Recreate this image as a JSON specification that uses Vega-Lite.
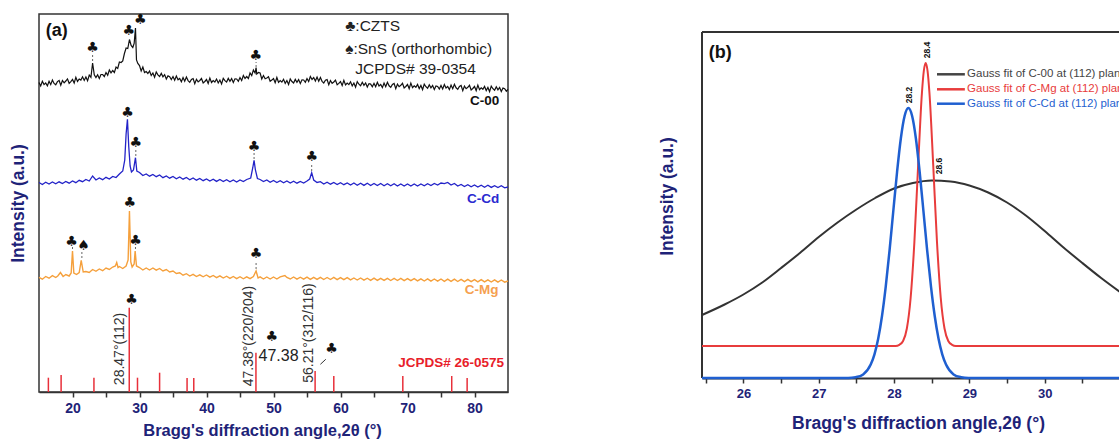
{
"$schema": "https://vega.github.io/schema/vega-lite/v6.json",
"padding": {"left": 8, "top": 12, "right": 0, "bottom": 0},
"bounds": "flush",
"spacing": 194,
"resolve": {"scale": {"color": "independent"}},
"config": {
  "font": "Liberation Sans",
  "view": {"stroke": "#333333", "strokeWidth": 1.5},
  "axis": {"grid": false, "labelFontWeight": "bold", "labelColor": "#1e2378", "titleColor": "#1e2378", "titleFontWeight": "bold", "domainColor": "#333333", "tickColor": "#333333", "labelFont": "Liberation Sans", "titleFont": "Liberation Sans"}
},
"datasets": {
  "c00": [{"x":15,"y":309.5},{"x":15.25,"y":306.1},{"x":15.5,"y":310.7},{"x":15.75,"y":307.4},{"x":16,"y":309},{"x":16.25,"y":306.1},{"x":16.5,"y":310.7},{"x":16.75,"y":307.4},{"x":17,"y":312},{"x":17.25,"y":308.6},{"x":17.5,"y":307.2},{"x":17.75,"y":310.4},{"x":18,"y":311.5},{"x":18.25,"y":306.7},{"x":18.5,"y":311.5},{"x":18.75,"y":309.2},{"x":19,"y":311},{"x":19.25,"y":313.1},{"x":19.5,"y":308.7},{"x":19.75,"y":310.4},{"x":20,"y":312.5},{"x":20.25,"y":308.9},{"x":20.5,"y":314.7},{"x":20.75,"y":310.6},{"x":21,"y":313},{"x":21.25,"y":311.9},{"x":21.5,"y":315.2},{"x":21.75,"y":311.6},{"x":22,"y":315},{"x":22.25,"y":311.2},{"x":22.5,"y":317},{"x":22.75,"y":314.7},{"x":23.0,"y":329},{"x":23.25,"y":317.2},{"x":23.5,"y":314.5},{"x":23.75,"y":317.2},{"x":24,"y":313.5},{"x":24.25,"y":317.5},{"x":24.5,"y":317.5},{"x":24.75,"y":315.5},{"x":25,"y":319.5},{"x":25.25,"y":316.7},{"x":25.5,"y":322},{"x":25.75,"y":319.2},{"x":26,"y":321.5},{"x":26.25,"y":319.5},{"x":26.5,"y":325},{"x":26.75,"y":323.5},{"x":27,"y":330},{"x":27.25,"y":329.5},{"x":27.5,"y":331},{"x":27.75,"y":338.5},{"x":28,"y":344},{"x":28.25,"y":343.5},{"x":28.5,"y":352.5},{"x":28.75,"y":346.5},{"x":29,"y":344.5},{"x":29.2,"y":348.5},{"x":29.4,"y":364},{"x":29.55,"y":332},{"x":29.75,"y":328.5},{"x":30,"y":326.5},{"x":30.25,"y":321},{"x":30.5,"y":325},{"x":30.75,"y":319.5},{"x":31,"y":320.5},{"x":31.25,"y":318.5},{"x":31.5,"y":321},{"x":31.75,"y":316.5},{"x":32,"y":319},{"x":32.25,"y":314.7},{"x":32.5,"y":320},{"x":32.75,"y":317.2},{"x":33,"y":315.5},{"x":33.25,"y":318.6},{"x":33.5,"y":315.2},{"x":33.75,"y":317.4},{"x":34,"y":313},{"x":34.25,"y":316.1},{"x":34.5,"y":315.2},{"x":34.75,"y":312.4},{"x":35,"y":315.5},{"x":35.25,"y":311.7},{"x":35.5,"y":316},{"x":35.75,"y":312.2},{"x":36,"y":313.5},{"x":36.25,"y":310.2},{"x":36.5,"y":314.5},{"x":36.75,"y":310.7},{"x":37,"y":315},{"x":37.25,"y":311.4},{"x":37.5,"y":309.7},{"x":37.75,"y":312.6},{"x":38,"y":313.5},{"x":38.25,"y":308.4},{"x":38.5,"y":312.7},{"x":38.75,"y":310.1},{"x":39,"y":311.5},{"x":39.25,"y":313.5},{"x":39.5,"y":309},{"x":39.75,"y":310.5},{"x":40,"y":312.5},{"x":40.25,"y":308.5},{"x":40.5,"y":314},{"x":40.75,"y":309.5},{"x":41,"y":311.5},{"x":41.25,"y":310},{"x":41.5,"y":313},{"x":41.75,"y":309},{"x":42,"y":312},{"x":42.25,"y":308.1},{"x":42.5,"y":313.7},{"x":42.75,"y":311.4},{"x":43,"y":310},{"x":43.25,"y":313.6},{"x":43.5,"y":310.7},{"x":43.75,"y":313.4},{"x":44,"y":309.5},{"x":44.25,"y":313.2},{"x":44.5,"y":313},{"x":44.75,"y":310.7},{"x":45,"y":314.5},{"x":45.25,"y":311.5},{"x":45.5,"y":316.5},{"x":45.75,"y":313.5},{"x":46,"y":315.5},{"x":46.25,"y":313.5},{"x":46.5,"y":319},{"x":46.75,"y":316.5},{"x":47,"y":322},{"x":47.25,"y":319},{"x":47.4,"y":324.5},{"x":47.5,"y":318},{"x":47.75,"y":319.5},{"x":48,"y":319},{"x":48.25,"y":313},{"x":48.5,"y":316.5},{"x":48.75,"y":313.2},{"x":49,"y":314},{"x":49.25,"y":315.2},{"x":49.5,"y":310.7},{"x":49.75,"y":311.9},{"x":50,"y":313.5},{"x":50.25,"y":309.2},{"x":50.5,"y":314.5},{"x":50.75,"y":309.7},{"x":51,"y":311.5},{"x":51.25,"y":309.9},{"x":51.5,"y":312.7},{"x":51.75,"y":308.6},{"x":52,"y":311.5},{"x":52.25,"y":307.5},{"x":52.5,"y":313},{"x":52.75,"y":310.5},{"x":53,"y":309},{"x":53.25,"y":312.6},{"x":53.5,"y":309.7},{"x":53.75,"y":312.4},{"x":54,"y":308.5},{"x":54.25,"y":312.2},{"x":54.5,"y":312},{"x":54.75,"y":309.7},{"x":55,"y":313.5},{"x":55.25,"y":310.5},{"x":55.5,"y":315.5},{"x":55.75,"y":312.5},{"x":56,"y":314.5},{"x":56.25,"y":311},{"x":56.5,"y":315},{"x":56.75,"y":310.7},{"x":57,"y":314.5},{"x":57.25,"y":310.7},{"x":57.5,"y":309},{"x":57.75,"y":311.7},{"x":58,"y":312.5},{"x":58.25,"y":307.2},{"x":58.5,"y":311.5},{"x":58.75,"y":308.7},{"x":59,"y":310},{"x":59.25,"y":311.9},{"x":59.5,"y":307.2},{"x":59.75,"y":308.6},{"x":60,"y":310.5},{"x":60.25,"y":306.4},{"x":60.5,"y":311.7},{"x":60.75,"y":307.1},{"x":61,"y":309},{"x":61.25,"y":307.4},{"x":61.5,"y":310.2},{"x":61.75,"y":306.1},{"x":62,"y":309},{"x":62.25,"y":304.9},{"x":62.5,"y":310.4},{"x":62.75,"y":307.8},{"x":63,"y":306.2},{"x":63.25,"y":309.7},{"x":63.5,"y":306.6},{"x":63.75,"y":309},{"x":64,"y":305},{"x":64.25,"y":308.4},{"x":64.5,"y":307.9},{"x":64.75,"y":305.3},{"x":65,"y":308.7},{"x":65.25,"y":305.2},{"x":65.5,"y":309.6},{"x":65.75,"y":306},{"x":66,"y":307.5},{"x":66.25,"y":304.4},{"x":66.5,"y":308.9},{"x":66.75,"y":305.3},{"x":67,"y":309.7},{"x":67.25,"y":306.2},{"x":67.5,"y":304.6},{"x":67.75,"y":307.5},{"x":68,"y":308.5},{"x":68.25,"y":303.4},{"x":68.5,"y":307.9},{"x":68.75,"y":305.3},{"x":69,"y":306.7},{"x":69.25,"y":308.7},{"x":69.5,"y":304.1},{"x":69.75,"y":305.5},{"x":70,"y":307.5},{"x":70.25,"y":303.4},{"x":70.5,"y":308.9},{"x":70.75,"y":304.3},{"x":71,"y":306.2},{"x":71.25,"y":304.7},{"x":71.5,"y":307.6},{"x":71.75,"y":303.5},{"x":72,"y":306.5},{"x":72.25,"y":302.4},{"x":72.5,"y":307.9},{"x":72.75,"y":305.3},{"x":73,"y":303.7},{"x":73.25,"y":307.2},{"x":73.5,"y":304.1},{"x":73.75,"y":306.5},{"x":74,"y":302.5},{"x":74.25,"y":306},{"x":74.5,"y":305.5},{"x":74.75,"y":303},{"x":75,"y":306.5},{"x":75.25,"y":303},{"x":75.5,"y":307.5},{"x":75.75,"y":304},{"x":76,"y":305.5},{"x":76.25,"y":302.4},{"x":76.5,"y":306.9},{"x":76.75,"y":303.3},{"x":77,"y":307.7},{"x":77.25,"y":304.2},{"x":77.5,"y":302.6},{"x":77.75,"y":305.5},{"x":78,"y":306.5},{"x":78.25,"y":301.4},{"x":78.5,"y":305.9},{"x":78.75,"y":303.3},{"x":79,"y":304.7},{"x":79.25,"y":306.7},{"x":79.5,"y":302.1},{"x":79.75,"y":303.5},{"x":80,"y":305.5},{"x":80.25,"y":301.4},{"x":80.5,"y":306.9},{"x":80.75,"y":302.3},{"x":81,"y":304.2},{"x":81.25,"y":302.7},{"x":81.5,"y":305.6},{"x":81.75,"y":301.5},{"x":82,"y":304.5},{"x":82.25,"y":300.4},{"x":82.5,"y":305.9},{"x":82.75,"y":303.3},{"x":83,"y":301.7},{"x":83.25,"y":305.2},{"x":83.5,"y":302.1},{"x":83.75,"y":304.5},{"x":84,"y":300.5},{"x":84.25,"y":303.9},{"x":84.5,"y":303.3},{"x":84.75,"y":300.8},{"x":85,"y":302.7}],
  "ccd": [{"x":15,"y":209.5},{"x":15.5,"y":207.5},{"x":16,"y":209.8},{"x":16.5,"y":208},{"x":17,"y":210},{"x":17.5,"y":208.2},{"x":18,"y":210.2},{"x":18.5,"y":208.5},{"x":19,"y":210.5},{"x":19.5,"y":208.8},{"x":20,"y":211},{"x":20.5,"y":209.3},{"x":21,"y":211.7},{"x":21.5,"y":210.3},{"x":22,"y":212.5},{"x":22.5,"y":211},{"x":23,"y":216},{"x":23.5,"y":212},{"x":24,"y":214},{"x":24.5,"y":212.3},{"x":25,"y":214.7},{"x":25.5,"y":213},{"x":26,"y":215.5},{"x":26.5,"y":214.5},{"x":27,"y":218},{"x":27.5,"y":221},{"x":27.8,"y":232},{"x":28.0,"y":258},{"x":28.2,"y":272.7},{"x":28.4,"y":245},{"x":28.6,"y":226},{"x":28.8,"y":220},{"x":29.1,"y":222},{"x":29.4,"y":234.3},{"x":29.6,"y":221},{"x":30,"y":219.5},{"x":30.5,"y":216.5},{"x":31,"y":218},{"x":31.5,"y":215.8},{"x":32,"y":217.5},{"x":32.5,"y":215.3},{"x":33,"y":217},{"x":33.5,"y":214.3},{"x":34,"y":216},{"x":34.5,"y":213.8},{"x":35,"y":215.5},{"x":35.5,"y":213.2},{"x":36,"y":215},{"x":36.5,"y":212.8},{"x":37,"y":214.5},{"x":37.5,"y":212.2},{"x":38,"y":214},{"x":38.5,"y":211.8},{"x":39,"y":213.5},{"x":39.5,"y":211.3},{"x":40,"y":213},{"x":40.5,"y":211},{"x":41,"y":212.8},{"x":41.5,"y":210.6},{"x":42,"y":212.5},{"x":42.5,"y":210.4},{"x":43,"y":212.3},{"x":43.5,"y":210.2},{"x":44,"y":212},{"x":44.5,"y":210},{"x":45,"y":212},{"x":45.5,"y":210.5},{"x":46,"y":212.5},{"x":46.6,"y":214},{"x":46.9,"y":224},{"x":47.1,"y":231.7},{"x":47.3,"y":222},{"x":47.6,"y":213.5},{"x":48,"y":212.5},{"x":48.5,"y":210.5},{"x":49,"y":212},{"x":49.5,"y":209.7},{"x":50,"y":211.5},{"x":50.5,"y":209.5},{"x":51,"y":211.3},{"x":51.5,"y":209.2},{"x":52,"y":211},{"x":52.5,"y":209},{"x":53,"y":210.8},{"x":53.5,"y":208.8},{"x":54,"y":210.5},{"x":54.5,"y":209},{"x":55,"y":211},{"x":55.4,"y":213},{"x":55.7,"y":219.3},{"x":56,"y":212},{"x":56.5,"y":209.5},{"x":57,"y":210.3},{"x":57.5,"y":208},{"x":58,"y":209.8},{"x":58.5,"y":207.8},{"x":59,"y":209.5},{"x":59.5,"y":207.5},{"x":60,"y":209.3},{"x":60.5,"y":207.3},{"x":61,"y":209},{"x":61.5,"y":207},{"x":62,"y":209},{"x":62.5,"y":206.8},{"x":63,"y":208.8},{"x":63.5,"y":206.6},{"x":64,"y":208.7},{"x":64.5,"y":206.5},{"x":65,"y":208.5},{"x":65.5,"y":206.4},{"x":66,"y":208.5},{"x":66.5,"y":206.3},{"x":67,"y":208.3},{"x":67.5,"y":206.2},{"x":68,"y":208.3},{"x":68.5,"y":206},{"x":69,"y":208},{"x":69.5,"y":206},{"x":70,"y":208},{"x":70.5,"y":206},{"x":71,"y":208},{"x":71.5,"y":206},{"x":72,"y":208},{"x":72.5,"y":206.2},{"x":73,"y":208.3},{"x":73.5,"y":206.5},{"x":74,"y":208.5},{"x":74.5,"y":207},{"x":75,"y":209},{"x":75.5,"y":208.3},{"x":76,"y":209.5},{"x":76.5,"y":207},{"x":77,"y":208.5},{"x":77.5,"y":206},{"x":78,"y":207.5},{"x":78.5,"y":205.5},{"x":79,"y":207.3},{"x":79.5,"y":205.2},{"x":80,"y":207},{"x":80.5,"y":205},{"x":81,"y":206.8},{"x":81.5,"y":204.8},{"x":82,"y":206.7},{"x":82.5,"y":204.6},{"x":83,"y":206.3},{"x":83.5,"y":204.4},{"x":84,"y":206.3},{"x":84.5,"y":204.2},{"x":85,"y":205}],
  "cmg": [{"x":15,"y":114.7},{"x":15.5,"y":112.8},{"x":16,"y":115.5},{"x":16.5,"y":113.8},{"x":17,"y":116.3},{"x":17.5,"y":114.5},{"x":17.8,"y":116},{"x":18.2,"y":119.5},{"x":18.6,"y":115.5},{"x":19,"y":117.5},{"x":19.5,"y":116},{"x":19.8,"y":119},{"x":20.0,"y":141},{"x":20.2,"y":119},{"x":20.6,"y":117.5},{"x":21.0,"y":119.5},{"x":21.3,"y":131.7},{"x":21.6,"y":120},{"x":22,"y":120.5},{"x":22.5,"y":119.5},{"x":23,"y":122.5},{"x":23.5,"y":120.7},{"x":24,"y":123},{"x":24.5,"y":121.3},{"x":25,"y":124},{"x":25.5,"y":122.5},{"x":26,"y":125},{"x":26.4,"y":126},{"x":26.6,"y":129.5},{"x":26.8,"y":124.5},{"x":27,"y":125.5},{"x":27.5,"y":123.5},{"x":28,"y":126},{"x":28.3,"y":132},{"x":28.5,"y":181},{"x":28.7,"y":130},{"x":28.9,"y":125},{"x":29.2,"y":128},{"x":29.35,"y":141},{"x":29.55,"y":126},{"x":30,"y":124.5},{"x":30.5,"y":122},{"x":31,"y":124},{"x":31.5,"y":122},{"x":32,"y":124},{"x":32.5,"y":121.8},{"x":33,"y":123.5},{"x":33.5,"y":121},{"x":34,"y":122.5},{"x":34.5,"y":120},{"x":35,"y":121},{"x":35.5,"y":118.5},{"x":36,"y":119.3},{"x":36.5,"y":116.8},{"x":37,"y":118.3},{"x":37.5,"y":116},{"x":38,"y":117.7},{"x":38.5,"y":115.5},{"x":39,"y":117.2},{"x":39.5,"y":115.2},{"x":40,"y":117},{"x":40.5,"y":114.8},{"x":41,"y":116.5},{"x":41.5,"y":114.4},{"x":42,"y":116.2},{"x":42.5,"y":114},{"x":43,"y":115.8},{"x":43.5,"y":113.6},{"x":44,"y":115.5},{"x":44.5,"y":113.4},{"x":45,"y":115.3},{"x":45.5,"y":113.2},{"x":46,"y":115.2},{"x":46.5,"y":113.3},{"x":47,"y":115.5},{"x":47.4,"y":121},{"x":47.7,"y":114},{"x":48,"y":115.2},{"x":48.5,"y":113},{"x":49,"y":115},{"x":49.5,"y":113},{"x":50,"y":115},{"x":50.5,"y":113},{"x":51,"y":115.2},{"x":51.7,"y":116.5},{"x":52,"y":114.5},{"x":52.5,"y":113},{"x":53,"y":115},{"x":53.5,"y":112.8},{"x":54,"y":114.8},{"x":54.5,"y":112.8},{"x":55,"y":114.8},{"x":55.5,"y":112.6},{"x":56,"y":114.6},{"x":56.5,"y":112.6},{"x":57,"y":114.7},{"x":57.5,"y":112.5},{"x":58,"y":114.5},{"x":58.5,"y":112.5},{"x":59,"y":114.6},{"x":59.5,"y":112.4},{"x":60,"y":114.4},{"x":60.5,"y":112.3},{"x":61,"y":114.3},{"x":61.5,"y":112.1},{"x":62,"y":114},{"x":62.5,"y":112},{"x":63,"y":114},{"x":63.5,"y":111.8},{"x":64,"y":113.8},{"x":64.5,"y":111.7},{"x":65,"y":113.8},{"x":65.5,"y":111.6},{"x":66,"y":113.7},{"x":66.5,"y":111.6},{"x":67,"y":113.7},{"x":67.5,"y":111.5},{"x":68,"y":113.6},{"x":68.5,"y":111.5},{"x":69,"y":113.6},{"x":69.5,"y":111.4},{"x":70,"y":113.4},{"x":70.5,"y":111.3},{"x":71,"y":113.4},{"x":71.5,"y":111.1},{"x":72,"y":113.2},{"x":72.5,"y":111},{"x":73,"y":113.2},{"x":73.5,"y":110.9},{"x":74,"y":113},{"x":74.5,"y":110.8},{"x":75,"y":113},{"x":75.5,"y":110.7},{"x":76,"y":112.8},{"x":76.5,"y":110.6},{"x":77,"y":112.8},{"x":77.5,"y":110.5},{"x":78,"y":112.6},{"x":78.5,"y":110.4},{"x":79,"y":112.6},{"x":79.5,"y":110.3},{"x":80,"y":112.4},{"x":80.5,"y":110.2},{"x":81,"y":112.4},{"x":81.5,"y":110.1},{"x":82,"y":112.2},{"x":82.5,"y":110},{"x":83,"y":112.2},{"x":83.5,"y":109.9},{"x":84,"y":112},{"x":84.5,"y":109.8},{"x":85,"y":111}],
  "sticks": [{"x":16.4,"y":14.3},{"x":18.3,"y":17},{"x":23.2,"y":14.3},{"x":28.47,"y":84.3},{"x":29.7,"y":14.3},{"x":33.0,"y":19.3},{"x":37.1,"y":14},{"x":38.1,"y":14},{"x":47.38,"y":39.3},{"x":56.21,"y":21},{"x":59.0,"y":16},{"x":69.3,"y":16},{"x":76.6,"y":16},{"x":78.9,"y":14}],
  "conn": [{"x":23.0,"y":331,"y2":338},{"x":47.4,"y":325,"y2":330},{"x":29.45,"y":236,"y2":243},{"x":47.1,"y":233,"y2":239},{"x":55.7,"y":221,"y2":229},{"x":20.0,"y":143,"y2":146},{"x":21.4,"y":134,"y2":140},{"x":29.4,"y":143,"y2":146},{"x":47.4,"y":123,"y2":131}],
  "slash": [{"x":57.0,"y":27.7,"x2":57.8,"y2":32.7}],
  "sym": [{"x":23.0,"y":344.3,"t":"♣"},{"x":28.4,"y":361,"t":"♣"},{"x":30.1,"y":372,"t":"♣"},{"x":47.35,"y":336,"t":"♣"},{"x":28.2,"y":279.3,"t":"♣"},{"x":29.45,"y":249.3,"t":"♣"},{"x":47.1,"y":245,"t":"♣"},{"x":55.7,"y":235,"t":"♣"},{"x":28.55,"y":189.3,"t":"♣"},{"x":19.85,"y":150.3,"t":"♣"},{"x":21.65,"y":146,"t":"♠"},{"x":29.4,"y":151,"t":"♣"},{"x":47.4,"y":137.7,"t":"♣"},{"x":28.8,"y":92,"t":"♣"},{"x":49.75,"y":55,"t":"♣"},{"x":58.65,"y":42.7,"t":"♣"}],
  "rot": [{"x":27.1,"y":43,"t":"28.47°(112)"},{"x":46.4,"y":56,"t":"47.38°(220/204)"},{"x":55.3,"y":59,"t":"56.21°(312/116)"}],
  "big": [{"x":50.75,"y":36,"t":"47.38"}],
  "legA": [{"x":60.7,"y":366,"t":"♣:CZTS"},{"x":60.7,"y":343,"t":"♠:SnS (orthorhombic)"},{"x":62.2,"y":323,"t":"JCPDS# 39-0354"}],
  "lblA": [{"x":83.7,"y":291,"t":"C-00","s":"C-00"},{"x":83.7,"y":193,"t":"C-Cd","s":"C-Cd"},{"x":83.6,"y":102,"t":"C-Mg","s":"C-Mg"},{"x":84.4,"y":29.3,"t":"JCPDS# 26-0575","s":"ref"}],
  "tagA": [{"x":16.0,"y":361,"t":"(a)"}],
  "frameB": [{"x":25.45,"x2":31,"y":346,"y2":346},{"x":25.45,"x2":25.45,"y":0,"y2":346}],
  "bk": [{"x":25.45,"y":63},{"x":25.75,"y":73.5},{"x":26,"y":83.5},{"x":26.25,"y":95.5},{"x":26.5,"y":110},{"x":26.75,"y":125},{"x":27,"y":141},{"x":27.25,"y":155.5},{"x":27.5,"y":168.5},{"x":27.75,"y":180},{"x":28,"y":189.5},{"x":28.25,"y":195},{"x":28.5,"y":197.5},{"x":28.75,"y":196.5},{"x":29,"y":192.5},{"x":29.25,"y":185.5},{"x":29.5,"y":175.5},{"x":29.75,"y":162.5},{"x":30,"y":147},{"x":30.25,"y":130.5},{"x":30.5,"y":115},{"x":30.75,"y":100},{"x":31,"y":86}],
  "rd": [{"x":25.45,"y":32},{"x":28.02,"y":32},{"x":28.07,"y":33.2},{"x":28.12,"y":37},{"x":28.17,"y":49.5},{"x":28.22,"y":80},{"x":28.27,"y":136},{"x":28.32,"y":213},{"x":28.37,"y":285},{"x":28.395,"y":307},{"x":28.42,"y":315},{"x":28.445,"y":307},{"x":28.47,"y":285},{"x":28.52,"y":213},{"x":28.57,"y":136},{"x":28.62,"y":80},{"x":28.67,"y":49.5},{"x":28.72,"y":37},{"x":28.77,"y":33.2},{"x":28.82,"y":32},{"x":31,"y":32}],
  "bl": [{"x":25.45,"y":0},{"x":27.39,"y":0},{"x":27.49,"y":0.8},{"x":27.59,"y":3.6},{"x":27.69,"y":13.4},{"x":27.74,"y":23.7},{"x":27.79,"y":39.5},{"x":27.84,"y":62},{"x":27.89,"y":91.6},{"x":27.94,"y":127.4},{"x":27.99,"y":167},{"x":28.04,"y":206},{"x":28.09,"y":239.5},{"x":28.14,"y":262},{"x":28.19,"y":270},{"x":28.24,"y":262},{"x":28.29,"y":239.5},{"x":28.34,"y":206},{"x":28.39,"y":167},{"x":28.44,"y":127.4},{"x":28.49,"y":91.6},{"x":28.54,"y":62},{"x":28.59,"y":39.5},{"x":28.64,"y":23.7},{"x":28.69,"y":13.4},{"x":28.79,"y":3.6},{"x":28.89,"y":0.8},{"x":28.99,"y":0},{"x":31,"y":0}],
  "legLineB": [{"x":28.57,"x2":28.94,"y":303.7,"g":"C-00"},{"x":28.57,"x2":28.94,"y":288.7,"g":"C-Mg"},{"x":28.57,"x2":28.94,"y":274.3,"g":"C-Cd"}],
  "legTextB": [{"x":28.97,"y":303.7,"t":"Gauss fit of C-00 at (112) plane","g":"C-00"},{"x":28.97,"y":288.7,"t":"Gauss fit of C-Mg at (112) plane","g":"C-Mg"},{"x":28.97,"y":274.3,"t":"Gauss fit of C-Cd at (112) plane","g":"C-Cd"}],
  "peakB": [{"x":28.44,"y":328,"t":"28.4"},{"x":28.2,"y":283,"t":"28.2"},{"x":28.6,"y":212,"t":"28.6"}],
  "tagB": [{"x":25.54,"y":325.5,"t":"(b)"}]
},
"hconcat": [
  {
    "width": 469,
    "height": 378,
    "encoding": {
      "x": {"field": "x", "type": "quantitative", "scale": {"domain": [15, 85], "nice": false, "zero": false},
        "axis": {"title": "Bragg's diffraction angle,2θ (°)", "values": [20,25,30,35,40,45,50,55,60,65,70,75,80], "labelExpr": "datum.value % 10 === 0 ? format(datum.value, 'd') : ''", "labelFontSize": 14, "labelPadding": 4, "tickSize": 5, "tickWidth": 1.5, "titleFontSize": 16.5, "titleX": 223, "titleY": 38, "titleBaseline": "middle", "titleAlign": "center", "domainWidth": 1.5,
          "encode": {"ticks": {"update": {"y2": {"signal": "datum.value % 10 === 0 ? 5 : 3"}}}}}},
      "y": {"field": "y", "type": "quantitative", "scale": {"domain": [0, 378], "nice": false, "zero": false},
        "axis": {"title": "Intensity (a.u.)", "labels": false, "ticks": false, "domain": false, "titleFontSize": 17.5, "titlePadding": 12}}
    },
    "layer": [
      {"data": {"name": "sticks"}, "mark": {"type": "rule", "color": "#e8303a", "strokeWidth": 1.5}, "encoding": {"y2": {"datum": 0}}},
      {"data": {"name": "cmg"}, "mark": {"type": "line", "color": "#f5a03c", "strokeWidth": 1.4}},
      {"data": {"name": "ccd"}, "mark": {"type": "line", "color": "#2323c8", "strokeWidth": 1.3}},
      {"data": {"name": "c00"}, "mark": {"type": "line", "color": "#111111", "strokeWidth": 1.2}},
      {"data": {"name": "conn"}, "mark": {"type": "rule", "color": "#666666", "strokeWidth": 1, "strokeDash": [2, 2]}, "encoding": {"y2": {"field": "y2"}}},
      {"data": {"name": "slash"}, "mark": {"type": "rule", "color": "#333333", "strokeWidth": 1}, "encoding": {"x2": {"field": "x2"}, "y2": {"field": "y2"}}},
      {"data": {"name": "sym"}, "mark": {"type": "text", "fontSize": 14, "color": "#111111", "font": "DejaVu Sans"}, "encoding": {"text": {"field": "t"}}},
      {"data": {"name": "rot"}, "mark": {"type": "text", "fontSize": 14, "angle": 270, "color": "#333333"}, "encoding": {"text": {"field": "t"}}},
      {"data": {"name": "big"}, "mark": {"type": "text", "fontSize": 16, "color": "#222222"}, "encoding": {"text": {"field": "t"}}},
      {"data": {"name": "legA"}, "mark": {"type": "text", "fontSize": 15.5, "color": "#222222", "align": "left"}, "encoding": {"text": {"field": "t"}}},
      {"data": {"name": "lblA"}, "mark": {"type": "text", "fontSize": 13.5, "fontWeight": "bold", "align": "right"},
        "encoding": {"text": {"field": "t"}, "color": {"field": "s", "type": "nominal", "scale": {"domain": ["C-00", "C-Cd", "C-Mg", "ref"], "range": ["#111111", "#2a2ad0", "#f5a050", "#e8202a"]}, "legend": null}}},
      {"data": {"name": "tagA"}, "mark": {"type": "text", "fontSize": 18, "fontWeight": "bold", "color": "#111111", "align": "left"}, "encoding": {"text": {"field": "t"}}}
    ]
  },
  {
    "width": 418,
    "height": 364,
    "view": {"stroke": null},
    "encoding": {
      "x": {"field": "x", "type": "quantitative", "scale": {"domain": [25.45, 31], "nice": false, "zero": false},
        "axis": {"title": "Bragg's diffraction angle,2θ (°)", "values": [25.5,26,26.5,27,27.5,28,28.5,29,29.5,30,30.5,31], "labelExpr": "datum.value % 1 === 0 && datum.value < 31 ? format(datum.value, 'd') : ''", "labelFontSize": 13, "labelPadding": 4, "tickWidth": 1.5, "titleFontSize": 17.5, "titleX": 216, "titleY": 45, "titleBaseline": "middle", "titleAlign": "center", "domainWidth": 2,
          "encode": {"ticks": {"update": {"y2": {"signal": "datum.value % 1 === 0 ? -4 : -2"}}}}}},
      "y": {"field": "y", "type": "quantitative", "scale": {"domain": [0, 364], "nice": false, "zero": false},
        "axis": {"title": "Intensity (a.u.)", "labels": false, "ticks": false, "domain": false, "titleFontSize": 17.5, "titlePadding": 26}}
    },
    "layer": [
      {"data": {"name": "frameB"}, "mark": {"type": "rule", "color": "#333333", "strokeWidth": 2}, "encoding": {"x2": {"field": "x2"}, "y2": {"field": "y2"}}},
      {"data": {"name": "bk"}, "mark": {"type": "line", "color": "#333333", "strokeWidth": 2, "interpolate": "monotone"}},
      {"data": {"name": "rd"}, "mark": {"type": "line", "color": "#e83c3c", "strokeWidth": 2, "interpolate": "monotone"}},
      {"data": {"name": "bl"}, "mark": {"type": "line", "color": "#1f5fd0", "strokeWidth": 2.5, "interpolate": "monotone"}},
      {"data": {"name": "legLineB"}, "mark": {"type": "rule", "strokeWidth": 2.5},
        "encoding": {"x2": {"field": "x2"}, "color": {"field": "g", "type": "nominal", "scale": {"domain": ["C-00", "C-Mg", "C-Cd"], "range": ["#444444", "#e83c3c", "#1f5fd0"]}, "legend": null}}},
      {"data": {"name": "legTextB"}, "mark": {"type": "text", "fontSize": 11.5, "align": "left", "clip": true},
        "encoding": {"text": {"field": "t"}, "color": {"field": "g", "type": "nominal", "scale": {"domain": ["C-00", "C-Mg", "C-Cd"], "range": ["#444444", "#e83c3c", "#1f5fd0"]}, "legend": null}}},
      {"data": {"name": "peakB"}, "mark": {"type": "text", "fontSize": 8.5, "fontWeight": "bold", "angle": 270, "color": "#111111"}, "encoding": {"text": {"field": "t"}}},
      {"data": {"name": "tagB"}, "mark": {"type": "text", "fontSize": 18, "fontWeight": "bold", "color": "#111111", "align": "left"}, "encoding": {"text": {"field": "t"}}}
    ]
  }
]
}
